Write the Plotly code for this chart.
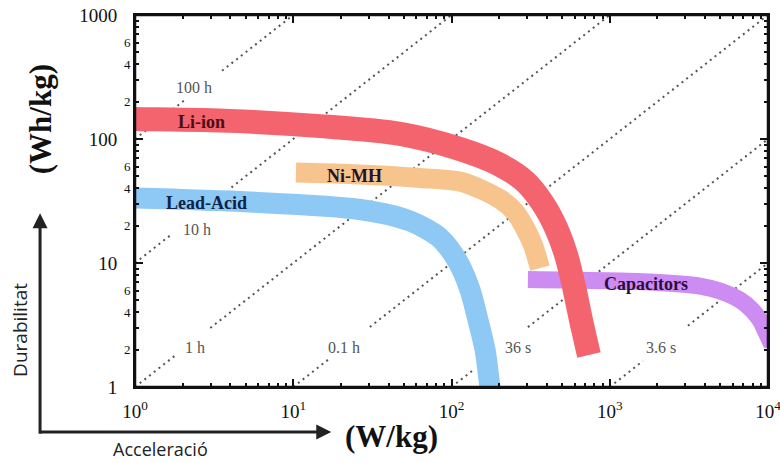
import math
import plotly.graph_objects as go

# ---- band centre-lines (specific power W/kg, specific energy Wh/kg) ----
li_ion_power = [0.8, 1.0, 3.98, 14.8, 47.3, 113, 202, 291, 379, 458, 530, 595, 658, 739]
li_ion_energy = [146, 145, 140, 127, 110, 83, 62, 45.5, 30.0, 19.2, 11.6, 6.4, 3.47, 1.81]

nimh_power = [10.4, 22.8, 63.2, 116, 202, 252, 291, 327, 362]
nimh_energy = [53.7, 52.2, 48.5, 45.0, 32.8, 25.8, 19.2, 14.0, 9.1]

lead_power = [0.8, 1.0, 5.33, 26.4, 54.7, 84.6, 110, 131, 147, 163, 175, 180]
lead_energy = [33.6, 33.4, 31.0, 27.0, 21.8, 15.9, 10.2, 6.06, 3.47, 1.99, 1.0, 0.79]

cap_power = [304, 1795, 3715, 4973, 6653, 7925, 8896, 9712, 10600]
cap_energy = [7.36, 7.03, 6.52, 5.95, 5.03, 4.18, 3.47, 2.78, 2.18]

band_names = ["Li-ion", "Ni-MH", "Lead-Acid", "Capacitors"]
band_label_power = [2.65, 24.5, 2.85, 1694]
band_label_energy = [137, 50.3, 30.5, 6.77]

# ---- constant discharge-time lines (E = P * t) ----
time_hours = [100, 10, 1, 0.1, 0.01, 0.001]
time_labels = ["100 h", "10 h", "1 h", "0.1 h", "36 s", "3.6 s"]
time_gap_lo = [2.09, 1.66, 1.79, 17.1, 141, 1622]
time_gap_hi = [3.55, 4.07, 2.99, 30.5, 304, 3119]
time_label_power = [2.36, 2.46, 2.39, 20.8, 263, 2109]
time_label_energy = [262, 18.5, 2.10, 2.10, 2.10, 2.10]

# ---- axis ticks ----
x_major = [1, 10, 100, 1000, 10000]
x_major_text = ["10<sup>0</sup>", "10<sup>1</sup>", "10<sup>2</sup>", "10<sup>3</sup>", "10<sup>4</sup>"]
y_major = [1, 10, 100, 1000]
y_major_text = ["1", "10", "100", "1000"]
y_minor_labels = [2, 4, 6, 20, 40, 60, 200, 400, 600]

P_MIN, P_MAX, E_MIN, E_MAX = 1, 1e4, 1, 1e3

SERIF = "Liberation Serif"
INK = "#111111"

fig = go.Figure()

# time lines, drawn first so the bands cover them
for t, lo, hi in zip(time_hours, time_gap_lo, time_gap_hi):
    p0 = max(P_MIN, E_MIN / t)
    p1 = min(P_MAX, E_MAX / t)
    xs = [p0, lo, None, hi, p1]
    ys = [p0 * t, lo * t, None, hi * t, p1 * t]
    fig.add_trace(go.Scatter(
        x=xs, y=ys, mode="lines", connectgaps=False, hoverinfo="skip",
        line=dict(color="#555555", width=2, dash="2px,4px"),
        showlegend=False))

bands = [
    (lead_power, lead_energy, "#8ec8f4", 21),
    (nimh_power, nimh_energy, "#f8c48e", 20),
    (cap_power, cap_energy, "#cd8cf2", 17),
    (li_ion_power, li_ion_energy, "#f3646f", 24),
]
for px, ey, col, w in bands:
    fig.add_trace(go.Scatter(
        x=px, y=ey, mode="lines", hoverinfo="skip",
        line=dict(color=col, width=w, shape="spline", smoothing=0.8),
        showlegend=False))

annotations = []

band_text_colors = ["#4c0c16", "#24122a", "#0c2448", "#2c0c40"]
for name, p, e, c in zip(band_names, band_label_power, band_label_energy, band_text_colors):
    annotations.append(dict(
        x=math.log10(p), y=math.log10(e), xref="x", yref="y", text=f"<b>{name}</b>",
        showarrow=False, font=dict(family=SERIF, size=18, color=c)))

for lab, p, e in zip(time_labels, time_label_power, time_label_energy):
    annotations.append(dict(
        x=math.log10(p), y=math.log10(e), xref="x", yref="y", text=lab,
        showarrow=False, font=dict(family=SERIF, size=16, color="#555555")))

for v in y_minor_labels:
    annotations.append(dict(
        x=0, y=math.log10(v), xref="paper", yref="y", text=str(v)[0],
        xanchor="right", yanchor="middle", xshift=-2, showarrow=False,
        font=dict(family=SERIF, size=13, color=INK)))

# axis titles
annotations.append(dict(
    x=-0.150, y=0.72, xref="paper", yref="paper", text="<b>(Wh/kg)</b>",
    xanchor="center", yanchor="middle",
    textangle=-90, showarrow=False, font=dict(family=SERIF, size=31, color=INK)))
annotations.append(dict(
    x=0.405, y=-0.134, xref="paper", yref="paper", text="<b>(W/kg)</b>",
    xanchor="center", yanchor="middle",
    showarrow=False, font=dict(family=SERIF, size=31, color=INK)))

# outer qualitative arrows
annotations.append(dict(
    x=-0.150, y=0.467, xref="paper", yref="paper", ax=0, ay=222,
    axref="pixel", ayref="pixel", text="", showarrow=True,
    arrowhead=2, arrowsize=1, arrowwidth=3, arrowcolor="#222222"))
annotations.append(dict(
    x=0.310, y=-0.121, xref="paper", yref="paper", ax=-292, ay=0,
    axref="pixel", ayref="pixel", text="", showarrow=True,
    arrowhead=2, arrowsize=1, arrowwidth=3, arrowcolor="#222222"))
annotations.append(dict(
    x=-0.182, y=0.153, xref="paper", yref="paper", text="Durabilitat",
    xanchor="center", yanchor="middle",
    textangle=-90, showarrow=False, font=dict(family="Open Sans", size=19, color="#222222")))
annotations.append(dict(
    x=0.040, y=-0.168, xref="paper", yref="paper", text="Acceleració",
    xanchor="center", yanchor="middle",
    showarrow=False, font=dict(family="Open Sans", size=18, color="#222222")))

x_minor = [m * 10 ** d for d in range(4) for m in range(2, 10)]
y_minor = [m * 10 ** d for d in range(3) for m in range(2, 10)]

tick_common = dict(
    showgrid=False, zeroline=False, automargin=False,
    showline=True, linecolor=INK, linewidth=2,
    ticks="inside", ticklen=8, tickwidth=1.5, tickcolor=INK,
    tickmode="array", ticklabeloverflow="allow",
)

fig.update_layout(
    width=780, height=463,
    margin=dict(l=135, r=12, t=15, b=76, autoexpand=False),
    paper_bgcolor="white", plot_bgcolor="white",
    annotations=annotations,
    # closed frame around the plotting area
    shapes=[dict(type="rect", xref="paper", yref="paper", x0=0, x1=1, y0=0, y1=1,
                 line=dict(color=INK, width=2.5), layer="above")],
    xaxis=dict(
        type="log", range=[0, 4], mirror="ticks",
        tickvals=x_major, ticktext=x_major_text,
        tickfont=dict(family=SERIF, size=19, color=INK),
        ticklabelstandoff=6,
        minor=dict(ticks="inside", ticklen=4, tickwidth=1.5, tickcolor=INK,
                   tickmode="array", tickvals=x_minor, showgrid=False),
        **tick_common,
    ),
    yaxis=dict(
        type="log", range=[0, 3], mirror="ticks",
        tickvals=y_major, ticktext=y_major_text,
        tickfont=dict(family=SERIF, size=19, color=INK),
        ticklabelstandoff=12,
        minor=dict(ticks="inside", ticklen=4, tickwidth=1.5, tickcolor=INK,
                   tickmode="array", tickvals=y_minor, showgrid=False),
        **tick_common,
    ),
)

fig.write_html("out.html")
